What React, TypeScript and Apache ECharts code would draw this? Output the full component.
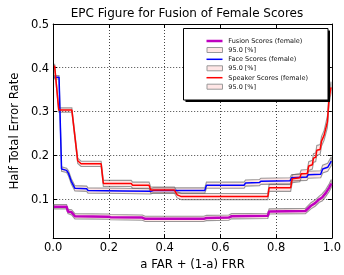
import React, { useEffect, useRef } from "react";
import * as echarts from "echarts";

const titleText = "EPC Figure for Fusion of Female Scores";
const xName = "a FAR + (1-a) FRR";
const yName = "Half Total Error Rate";
const yTicks = [0.1, 0.2, 0.3, 0.4, 0.5];
const legendLabels = ["Fusion Scores (female)", "Face Scores (female)", "Speaker Scores (female)"];
const bandLabel = "95.0 [%]";

const fusionX = [0.003, 0.048, 0.053, 0.066, 0.078, 0.2, 0.205, 0.32, 0.33, 0.54, 0.55, 0.63, 0.64, 0.77, 0.775, 0.905, 0.925, 0.94, 0.955, 0.965, 0.978, 0.99, 0.998];
const fusionY = [0.082, 0.082, 0.071, 0.069, 0.06, 0.059, 0.058, 0.057, 0.054, 0.054, 0.056, 0.057, 0.06, 0.061, 0.071, 0.072, 0.084, 0.09, 0.099, 0.103, 0.113, 0.125, 0.135];
const fusionErr = [0.005, 0.005, 0.005, 0.006, 0.006, 0.006, 0.006, 0.006, 0.006, 0.006, 0.006, 0.006, 0.006, 0.006, 0.006, 0.006, 0.007, 0.007, 0.007, 0.008, 0.008, 0.009, 0.009];

const faceX = [0.005, 0.021, 0.03, 0.048, 0.055, 0.065, 0.078, 0.12, 0.125, 0.25, 0.35, 0.36, 0.544, 0.55, 0.685, 0.69, 0.74, 0.745, 0.85, 0.855, 0.91, 0.915, 0.96, 0.967, 0.985, 0.998];
const faceY = [0.378, 0.378, 0.168, 0.165, 0.158, 0.14, 0.124, 0.123, 0.119, 0.118, 0.117, 0.119, 0.119, 0.131, 0.131, 0.136, 0.137, 0.14, 0.141, 0.148, 0.15, 0.155, 0.156, 0.168, 0.172, 0.186];
const faceErr = [0.004, 0.004, 0.005, 0.005, 0.006, 0.006, 0.006, 0.006, 0.006, 0.006, 0.006, 0.006, 0.006, 0.007, 0.007, 0.007, 0.007, 0.007, 0.007, 0.007, 0.008, 0.008, 0.008, 0.009, 0.009, 0.01];

const speakerX = [0.005, 0.02, 0.067, 0.088, 0.1, 0.172, 0.18, 0.28, 0.285, 0.344, 0.35, 0.435, 0.445, 0.46, 0.77, 0.775, 0.852, 0.858, 0.885, 0.89, 0.912, 0.917, 0.93, 0.934, 0.942, 0.946, 0.958, 0.963, 0.972, 0.984, 0.99, 0.997];
const speakerY = [0.405, 0.303, 0.303, 0.187, 0.18, 0.18, 0.135, 0.135, 0.131, 0.131, 0.12, 0.12, 0.109, 0.105, 0.105, 0.125, 0.125, 0.146, 0.148, 0.157, 0.158, 0.175, 0.178, 0.193, 0.195, 0.211, 0.213, 0.232, 0.245, 0.276, 0.33, 0.355];
const speakerErr = [0.004, 0.005, 0.005, 0.006, 0.006, 0.006, 0.007, 0.007, 0.007, 0.007, 0.007, 0.007, 0.007, 0.007, 0.007, 0.008, 0.008, 0.009, 0.009, 0.009, 0.009, 0.01, 0.01, 0.01, 0.01, 0.011, 0.011, 0.011, 0.011, 0.013, 0.013, 0.013];

const FONT = "DejaVu Sans";
const BAND_FILL = "rgba(255,0,0,0.1)";
const BAND_EDGE = "rgba(100,100,100,0.65)";

function bandSeries(id: string, xs: number[], ys: number[], errs: number[]) {
  return {
    type: "custom",
    name: id,
    silent: true,
    clip: true,
    z: 1,
    data: xs.map((x, i) => [x, ys[i] - errs[i], ys[i] + errs[i]]),
    encode: { x: 0, y: [1, 2] },
    renderItem: (params: any, api: any) => {
      if (params.dataIndex !== 0) return null;
      const upper = xs.map((x, i) => api.coord([x, ys[i] + errs[i]]));
      const lower = xs.map((x, i) => api.coord([x, ys[i] - errs[i]])).reverse();
      return {
        type: "polygon",
        shape: { points: upper.concat(lower) },
        style: { fill: BAND_FILL, stroke: BAND_EDGE, lineWidth: 1.1 },
      };
    },
  };
}

function lineSeries(name: string, xs: number[], ys: number[], color: string, width: number) {
  return {
    type: "line",
    name,
    symbol: "none",
    data: xs.map((x, i) => [x, ys[i]]),
    lineStyle: { color, width },
    z: 3,
  };
}

export default function App() {
  const ref = useRef<HTMLDivElement>(null);
  useEffect(() => {
    const chart = echarts.init(ref.current!, null, { renderer: "svg" });
    const axisLine = { show: true, onZero: false, lineStyle: { color: "#000", width: 1 } };
    const tick = { show: true, inside: true, length: 4, lineStyle: { color: "#000", width: 1 } };
    const grid = { show: true, lineStyle: { color: "#444", type: [1, 2], width: 1 } };
    const labelStyle = { fontSize: 11.5, color: "#000", fontFamily: FONT };
    const nameStyle = { fontSize: 11.7, color: "#000", fontFamily: FONT };

    const legendRows = [41, 50, 59.3, 68.3, 77.7, 86.7];
    const legendColors = ["#bf00bf", "#0000ff", "#ff0000"];
    const legendWidths = [2.5, 1.5, 1.5];
    const legendEls: any[] = [
      { type: "rect", shape: { x: 185.5, y: 30.5, width: 144.5, height: 71.5 }, style: { fill: "#000" }, z: 10 },
      { type: "rect", shape: { x: 183.5, y: 28.5, width: 144.5, height: 71.5 }, style: { fill: "#fff", stroke: "#000", lineWidth: 1 }, z: 11 },
    ];
    legendLabels.forEach((lab, k) => {
      const yl = legendRows[2 * k];
      const yp = legendRows[2 * k + 1];
      legendEls.push({
        type: "line",
        shape: { x1: 206.5, y1: yl, x2: 222.5, y2: yl },
        style: { stroke: legendColors[k], lineWidth: legendWidths[k] },
        z: 12,
      });
      legendEls.push({
        type: "text",
        x: 228.3,
        y: yl,
        style: { text: lab, fontSize: 6.5, fontFamily: FONT, fill: "#111", verticalAlign: "middle", align: "left" },
        z: 12,
      });
      legendEls.push({
        type: "rect",
        shape: { x: 207, y: yp - 2.5, width: 15.5, height: 5 },
        style: { fill: "#ffe6e6", stroke: "#999", lineWidth: 1 },
        z: 12,
      });
      legendEls.push({
        type: "text",
        x: 228.3,
        y: yp,
        style: { text: bandLabel, fontSize: 6.5, fontFamily: FONT, fill: "#111", verticalAlign: "middle", align: "left" },
        z: 12,
      });
    });

    const option: any = {
      animation: false,
      grid: { left: 41, right: 11, top: 24, bottom: 26, show: false },
      graphic: [
        {
          type: "text",
          x: 187,
          y: 7,
          style: { text: titleText, fontSize: 12, fontFamily: FONT, fill: "#000", align: "center", verticalAlign: "top" },
        },
        ...legendEls,
      ],
      xAxis: [
        {
          type: "value",
          min: 0,
          max: 1,
          interval: 0.2,
          position: "bottom",
          axisLine,
          axisTick: tick,
          axisLabel: { ...labelStyle, margin: 3, formatter: (v: number) => v.toFixed(1) },
          splitLine: grid,
          name: xName,
          nameLocation: "middle",
          nameGap: 15,
          nameTextStyle: nameStyle,
        },
        {
          type: "value",
          min: 0,
          max: 1,
          interval: 0.2,
          position: "top",
          axisLine,
          axisTick: tick,
          axisLabel: { show: false },
          splitLine: { show: false },
        },
      ],
      yAxis: [
        {
          type: "value",
          min: 0.01,
          max: 0.5,
          position: "left",
          axisLine,
          axisTick: { ...tick, customValues: yTicks },
          axisLabel: { ...labelStyle, margin: 4, customValues: yTicks, formatter: (v: number) => v.toFixed(1) },
          splitLine: grid,
          name: yName,
          nameLocation: "middle",
          nameGap: 20,
          nameTextStyle: nameStyle,
        },
        {
          type: "value",
          min: 0.01,
          max: 0.5,
          position: "right",
          axisLine,
          axisTick: { ...tick, customValues: yTicks },
          axisLabel: { show: false, customValues: yTicks },
          splitLine: { show: false },
        },
      ],
      series: [
        bandSeries("fusionBand", fusionX, fusionY, fusionErr),
        lineSeries("Fusion Scores (female)", fusionX, fusionY, "#bf00bf", 2.5),
        bandSeries("faceBand", faceX, faceY, faceErr),
        lineSeries("Face Scores (female)", faceX, faceY, "#0000ff", 1.5),
        bandSeries("speakerBand", speakerX, speakerY, speakerErr),
        lineSeries("Speaker Scores (female)", speakerX, speakerY, "#ff0000", 1.5),
      ],
    };
    chart.setOption(option);
    return () => chart.dispose();
  }, []);
  return <div ref={ref} style={{ position: "fixed", left: 0, top: 0, width: 344, height: 275 }} />;
}
